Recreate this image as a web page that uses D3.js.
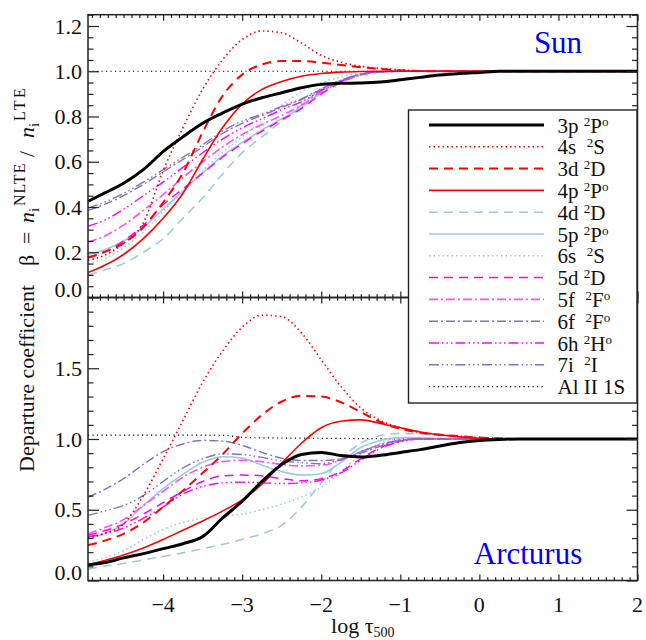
<!DOCTYPE html>
<html><head><meta charset="utf-8">
<script src="https://cdn.jsdelivr.net/npm/d3@7"></script>
<style>body{margin:0;background:#fff}svg{display:block}text{font-family:"Liberation Serif","Times New Roman",serif}</style>
</head><body><svg id="c" width="646" height="640"></svg>
<script>
// ---- data ----
const logTau = [-4.95,-4.75,-4.5,-4.25,-4.0,-3.75,-3.5,-3.25,-3.0,-2.75,-2.5,-2.25,-2.0,-1.75,-1.5,-1.25,-1.0,-0.75,-0.5,-0.25,0,0.25,0.5,1.0,1.5,2.0];
const levelNames = ["3p","4s","3d","4p","4d","5p","6s","5d","5f","6f","6h","7i","Al II 1S"];
// legend label parts: prefix, superscript multiplicity, term, parity
const labelPre  = ["3p ","4s  ","3d ","4p ","4d ","5p ","6s  ","5d ","5f  ","6f  ","6h ","7i  ","Al II 1S"];
const labelMult = ["2","2","2","2","2","2","2","2","2","2","2","2",""];
const labelTerm = ["P","S","D","P","D","P","S","D","F","F","H","I",""];
const labelPar  = ["o","","","o","","o","","","o","o","o","",""];

// Sun
const sun3p = [0.425,0.46,0.505,0.565,0.645,0.71,0.77,0.815,0.855,0.883,0.905,0.927,0.942,0.947,0.948,0.952,0.962,0.973,0.983,0.99,0.995,1,1,1,1,1];
const sun4s = [0.165,0.185,0.24,0.33,0.56,0.75,0.92,1.05,1.14,1.178,1.17,1.125,1.07,1.04,1.022,1.013,1.006,1.002,1,1,1,1,1,1,1,1];
const sun3d = [0.175,0.2,0.24,0.31,0.42,0.55,0.73,0.89,0.985,1.03,1.045,1.045,1.038,1.028,1.018,1.01,1.004,1.001,1,1,1,1,1,1,1,1];
const sun4p = [0.11,0.14,0.19,0.26,0.35,0.46,0.61,0.75,0.855,0.92,0.955,0.978,0.99,0.996,0.999,1,1,1,1,1,1,1,1,1,1,1];
const sun4d = [0.1,0.12,0.15,0.2,0.26,0.35,0.44,0.545,0.64,0.71,0.78,0.85,0.92,0.96,0.985,0.997,1,1,1,1,1,1,1,1,1,1];
const sun5p = [0.19,0.21,0.25,0.31,0.39,0.47,0.55,0.625,0.685,0.74,0.79,0.84,0.905,0.955,0.985,0.997,1,1,1,1,1,1,1,1,1,1];
const sun6s = [0.15,0.17,0.22,0.29,0.38,0.47,0.56,0.64,0.71,0.78,0.85,0.91,0.95,0.975,0.99,0.998,1,1,1,1,1,1,1,1,1,1];
const sun5d = [0.18,0.2,0.25,0.32,0.41,0.48,0.55,0.62,0.68,0.735,0.785,0.835,0.9,0.95,0.984,0.997,1,1,1,1,1,1,1,1,1,1];
const sun5f = [0.245,0.27,0.32,0.385,0.455,0.53,0.6,0.665,0.72,0.765,0.805,0.85,0.91,0.955,0.985,0.997,1,1,1,1,1,1,1,1,1,1];
const sun6f = [0.385,0.41,0.45,0.5,0.555,0.61,0.665,0.725,0.77,0.805,0.84,0.875,0.92,0.96,0.987,0.998,1,1,1,1,1,1,1,1,1,1];
const sun6h = [0.315,0.34,0.39,0.45,0.51,0.575,0.64,0.7,0.75,0.79,0.83,0.865,0.915,0.957,0.986,0.998,1,1,1,1,1,1,1,1,1,1];
const sun7i = [0.395,0.42,0.46,0.51,0.565,0.62,0.675,0.735,0.78,0.81,0.845,0.878,0.922,0.96,0.987,0.998,1,1,1,1,1,1,1,1,1,1];
const sunAl = [1,1,1,1,1,1,1,1,1,1,1,1,1,1,1,1,1,1,1,1,1,1,1,1,1,1];

// Arcturus
const arc3p = [0.11,0.125,0.16,0.19,0.225,0.26,0.31,0.44,0.56,0.7,0.82,0.89,0.905,0.883,0.873,0.885,0.905,0.925,0.95,0.975,0.99,0.997,1,1,1,1];
const arc4s = [0.3,0.33,0.4,0.6,0.86,1.13,1.4,1.62,1.79,1.875,1.865,1.75,1.56,1.37,1.22,1.13,1.08,1.045,1.03,1.02,1.01,1.005,1,1,1,1];
const arc3d = [0.25,0.28,0.33,0.41,0.52,0.635,0.76,0.89,1.04,1.17,1.265,1.305,1.3,1.26,1.19,1.12,1.072,1.045,1.03,1.02,1.01,1.005,1,1,1,1];
const arc4p = [0.11,0.14,0.18,0.23,0.29,0.355,0.42,0.49,0.57,0.68,0.83,0.97,1.08,1.125,1.135,1.11,1.08,1.05,1.03,1.015,1.005,1,1,1,1,1];
const arc4d = [0.08,0.1,0.12,0.145,0.17,0.195,0.225,0.255,0.29,0.33,0.39,0.52,0.69,0.86,0.97,1.025,1.04,1.035,1.025,1.015,1.005,1,1,1,1,1];
const arc5p = [0.3,0.33,0.4,0.53,0.65,0.75,0.835,0.875,0.865,0.815,0.77,0.745,0.755,0.835,0.94,0.99,1.01,1.01,1.005,1.002,1,1,1,1,1,1];
const arc6s = [0.13,0.16,0.21,0.29,0.36,0.41,0.44,0.455,0.47,0.5,0.54,0.59,0.66,0.77,0.89,0.97,1,1,1,1,1,1,1,1,1,1];
const arc5d = [0.32,0.35,0.4,0.47,0.55,0.63,0.7,0.74,0.745,0.74,0.72,0.705,0.72,0.77,0.86,0.94,0.985,1,1,1,1,1,1,1,1,1];
const arc5f = [0.33,0.37,0.43,0.53,0.63,0.73,0.8,0.84,0.85,0.84,0.82,0.81,0.815,0.85,0.91,0.96,0.99,1,1,1,1,1,1,1,1,1];
const arc6f = [0.59,0.64,0.72,0.82,0.91,0.965,0.99,0.985,0.955,0.905,0.865,0.848,0.848,0.86,0.9,0.95,0.99,1,1,1,1,1,1,1,1,1];
const arc6h = [0.31,0.33,0.37,0.44,0.52,0.61,0.665,0.69,0.695,0.69,0.685,0.69,0.71,0.76,0.85,0.935,0.98,1,1,1,1,1,1,1,1,1];
const arc7i = [0.46,0.49,0.53,0.6,0.7,0.795,0.86,0.895,0.89,0.87,0.845,0.833,0.825,0.855,0.91,0.96,0.99,1,1,1,1,1,1,1,1,1];
const arcAl = [1.027,1.027,1.027,1.027,1.027,1.027,1.027,1.026,1.012,1.008,1.007,1.006,1.005,1.004,1.003,1.002,1.001,1,1,1,1,1,1,1,1,1];

const xTicks = [-4,-3,-2,-1,0,1,2];
const sunYTicks = [0,0.2,0.4,0.6,0.8,1.0,1.2];
const arcYTicks = [0,0.5,1.0,1.5];

// ---- styles ----
const RED="#ff0000", LB="#9ecae1", MAG="#ff00ff", MAG2="#ff4dff", PUR="#8170c0";
const styles = [
  {c:"#000", w:3.0, d:null},
  {c:RED, w:1.6, d:"1.5,3"},
  {c:RED, w:2.0, d:"9,6"},
  {c:RED, w:1.6, d:null},
  {c:LB, w:1.6, d:"9,6"},
  {c:LB, w:1.6, d:null},
  {c:LB, w:1.6, d:"1.5,3"},
  {c:MAG, w:1.5, d:"9,6"},
  {c:MAG2, w:1.6, d:"9,3,2,3"},
  {c:PUR, w:1.4, d:"9,3,2,3"},
  {c:MAG, w:1.4, d:"10,3,1.5,3,1.5,3,1.5,3"},
  {c:PUR, w:1.4, d:"10,3,1.5,3,1.5,3,1.5,3"},
  {c:"#000", w:1.2, d:"1.2,3.3"}
];
const sunSeries = [sun3p,sun4s,sun3d,sun4p,sun4d,sun5p,sun6s,sun5d,sun5f,sun6f,sun6h,sun7i,sunAl];
const arcSeries = [arc3p,arc4s,arc3d,arc4p,arc4d,arc5p,arc6s,arc5d,arc5f,arc6f,arc6h,arc7i,arcAl];

// ---- layout ----
const L=88, R=637.5, T1=14.7, B1=297.5, B2=580.5;
const svg = d3.select("#c");
const x = d3.scaleLinear().domain([-4.95,2]).range([L,R]);
const ySun = d3.scaleLinear().domain([0,1.25]).range([B1,T1]);
const yArc = d3.scaleLinear().domain([0,2.0]).range([B2,B1]);
const xMinor = d3.range(-49,21).map(i=>i/10).filter(v=>Math.abs(v-Math.round(v))>1e-6);

svg.append("rect").attr("width",646).attr("height",640).attr("fill","#fff");

function panel(y, series, yMajor, yMinor, top, bottom, name){
  const clipId = "clip"+name;
  svg.append("clipPath").attr("id",clipId).append("rect")
    .attr("x",L).attr("y",top).attr("width",R-L).attr("height",bottom-top);
  const g = svg.append("g").attr("clip-path",`url(#${clipId})`);
  const line = d3.line().x((d,i)=>x(logTau[i])).y(d=>y(d)).curve(d3.curveMonotoneX);
  const order = [12,4,6,5,7,8,10,9,11,2,1,3,0];
  order.forEach(k=>{
    const s=styles[k];
    g.append("path").attr("d",line(series[k])).attr("fill","none")
      .attr("stroke",s.c).attr("stroke-width",s.w)
      .attr("stroke-dasharray",s.d).attr("stroke-linejoin","round");
  });
  const ax = (gen, tx, ty)=> svg.append("g").attr("transform",`translate(${tx},${ty})`).call(gen)
      .call(s=>s.select(".domain").remove()).call(s=>s.selectAll("line").attr("stroke","#222").attr("stroke-width",1.2));
  ax(d3.axisBottom(x).tickValues(xTicks).tickSizeInner(-6).tickSizeOuter(0).tickFormat(""),0,bottom);
  ax(d3.axisBottom(x).tickValues(xMinor).tickSizeInner(-3.2).tickSizeOuter(0).tickFormat(""),0,bottom);
  ax(d3.axisTop(x).tickValues(xTicks).tickSizeInner(-6).tickSizeOuter(0).tickFormat(""),0,top);
  ax(d3.axisTop(x).tickValues(xMinor).tickSizeInner(-3.2).tickSizeOuter(0).tickFormat(""),0,top);
  ax(d3.axisLeft(y).tickValues(yMajor).tickSizeInner(-11).tickSizeOuter(0).tickFormat(""),L,0);
  ax(d3.axisLeft(y).tickValues(yMinor).tickSizeInner(-5.5).tickSizeOuter(0).tickFormat(""),L,0);
  ax(d3.axisRight(y).tickValues(yMajor).tickSizeInner(-11).tickSizeOuter(0).tickFormat(""),R,0);
  ax(d3.axisRight(y).tickValues(yMinor).tickSizeInner(-5.5).tickSizeOuter(0).tickFormat(""),R,0);
  svg.append("g").selectAll("text").data(yMajor).join("text")
    .attr("x",82).attr("y",d=> d===0 ? y(d)-0.5 : y(d)+7.5)
    .attr("text-anchor","end").attr("font-size",22).attr("fill","#111")
    .text(d=>d.toFixed(1));
  svg.append("rect").attr("x",L).attr("y",top).attr("width",R-L).attr("height",bottom-top)
    .attr("fill","none").attr("stroke","#222").attr("stroke-width",1.5);
}

panel(ySun, sunSeries, sunYTicks, d3.range(0,26).map(i=>i*0.05).filter(v=>Math.abs(v*5-Math.round(v*5))>1e-6), T1, B1, "sun");
panel(yArc, arcSeries, arcYTicks, d3.range(0,21).map(i=>i/10).filter(v=>Math.abs(v*2-Math.round(v*2))>1e-6), B1, B2, "arc");

// x tick labels
svg.append("g").selectAll("text").data(xTicks).join("text")
  .attr("x",d=>x(d)).attr("y",612).attr("text-anchor","middle")
  .attr("font-size",22).attr("fill","#111")
  .text(d=>d3.format("d")(d).replace("-","\u2212"));

// star names
svg.append("text").attr("x",558).attr("y",53).attr("text-anchor","middle")
  .attr("font-size",31).attr("fill","#0000ff").text("Sun");
svg.append("text").attr("x",528).attr("y",564).attr("text-anchor","middle")
  .attr("font-size",31).attr("fill","#0000ff").text("Arcturus");

// legend
const lg = svg.append("g");
lg.append("rect").attr("x",408.5).attr("y",110).attr("width",228.5).attr("height",293)
  .attr("fill","#fff").attr("stroke","#222").attr("stroke-width",1.4);
levelNames.forEach((nm,i)=>{
  const yy = 125 + i*21.8;
  const s = styles[i];
  lg.append("line").attr("x1",429).attr("x2",544).attr("y1",yy).attr("y2",yy)
    .attr("stroke",s.c).attr("stroke-width",s.w).attr("stroke-dasharray",s.d);
  const t = lg.append("text").attr("x",557.5).attr("y",yy+7.5).attr("font-size",21)
    .attr("fill","#111").style("white-space","pre");
  t.append("tspan").text(labelPre[i]);
  if(labelMult[i]){
    t.append("tspan").attr("font-size",13).attr("dy",-7).text(labelMult[i]);
    t.append("tspan").attr("dy",7).text(labelTerm[i]);
    if(labelPar[i]) t.append("tspan").attr("font-size",13).attr("dy",-7).text(labelPar[i]);
  }
});

// axis titles
const xt = svg.append("text").attr("x",(L+R)/2).attr("y",633).attr("text-anchor","middle")
  .attr("font-size",22).attr("fill","#111");
xt.append("tspan").text("log \u03c4");
xt.append("tspan").attr("font-size",14).attr("dy",4).text("500");

// y title (rotated; positions measured along the text direction)
const yt = svg.append("text").attr("transform","translate(33.5,472) rotate(-90)")
  .attr("text-anchor","start").attr("font-size",22).attr("fill","#111");
yt.append("tspan").attr("x",0).attr("y",0).text("Departure coefficient");
yt.append("tspan").attr("x",206).attr("y",0).text("\u03b2");
yt.append("tspan").attr("x",228).attr("y",0).text("=");
yt.append("tspan").attr("x",249).attr("y",0).attr("font-style","italic").text("n");
yt.append("tspan").attr("x",260).attr("y",5).attr("font-size",15).text("i");
yt.append("tspan").attr("x",266).attr("y",-9).attr("font-size",16).attr("letter-spacing",1).text("NLTE");
yt.append("tspan").attr("x",315).attr("y",0).text("/");
yt.append("tspan").attr("x",334).attr("y",0).attr("font-style","italic").text("n");
yt.append("tspan").attr("x",345).attr("y",5).attr("font-size",15).text("i");
yt.append("tspan").attr("x",351).attr("y",-9).attr("font-size",16).attr("letter-spacing",2.5).text("LTE");
</script></body></html>
